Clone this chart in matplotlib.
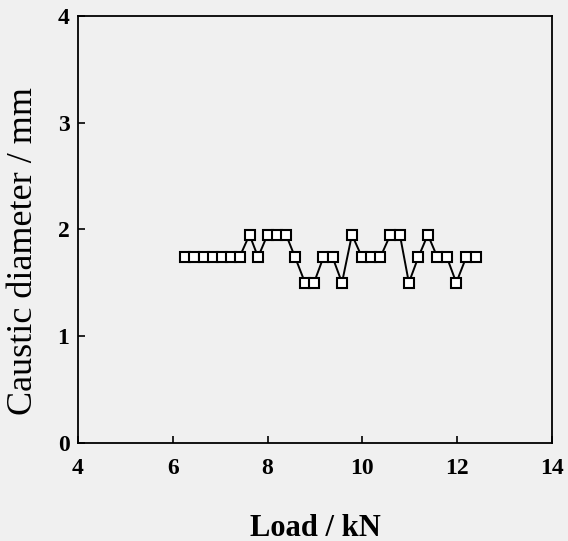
import matplotlib
matplotlib.use('Agg')
import matplotlib.pyplot as plt

# Load (kN) and caustic diameter (mm)
load = [6.25, 6.45, 6.65, 6.84, 7.03, 7.22, 7.41, 7.62, 7.80, 8.00, 8.20,
        8.39, 8.58, 8.79, 8.98, 9.18, 9.37, 9.57, 9.78, 9.99, 10.18, 10.38,
        10.59, 10.79, 10.98, 11.18, 11.38, 11.58, 11.78, 11.98, 12.19, 12.40]
diameter = [1.74, 1.74, 1.74, 1.74, 1.74, 1.74, 1.74, 1.95, 1.74, 1.95, 1.95,
            1.95, 1.74, 1.50, 1.50, 1.74, 1.74, 1.50, 1.95, 1.74, 1.74, 1.74,
            1.95, 1.95, 1.50, 1.74, 1.95, 1.74, 1.74, 1.50, 1.74, 1.74]

x_ticks = [4, 6, 8, 10, 12, 14]
y_ticks = [0, 1, 2, 3, 4]

bg = '#f0f0f0'
plt.rcParams['font.family'] = ['Liberation Serif', 'DejaVu Serif']

fig = plt.figure(figsize=(5.68, 5.41), dpi=100, facecolor=bg)
ax = fig.add_axes([0.137, 0.182, 0.835, 0.788], facecolor=bg)

ax.plot(load, diameter, color='black', linewidth=1.4, marker='s', markersize=7,
        markerfacecolor='white', markeredgecolor='black', markeredgewidth=1.5)

ax.set_xlim(4, 14)
ax.set_ylim(0, 4)
ax.set_xticks(x_ticks)
ax.set_yticks(y_ticks)
ax.tick_params(direction='in', length=5, width=1.2, labelsize=17)
ax.tick_params(axis='x', pad=11)
ax.tick_params(axis='y', pad=6)
for lbl in ax.get_xticklabels() + ax.get_yticklabels():
    lbl.set_fontweight('bold')
for s in ax.spines.values():
    s.set_linewidth(1.3)

ax.set_xlabel('Load / kN', fontsize=22, fontweight='bold', labelpad=25)
ax.set_ylabel('Caustic diameter / mm', fontsize=26)
ax.yaxis.set_label_coords(-0.08, 0.45)

fig.savefig('out.png', dpi=100, facecolor=bg)
